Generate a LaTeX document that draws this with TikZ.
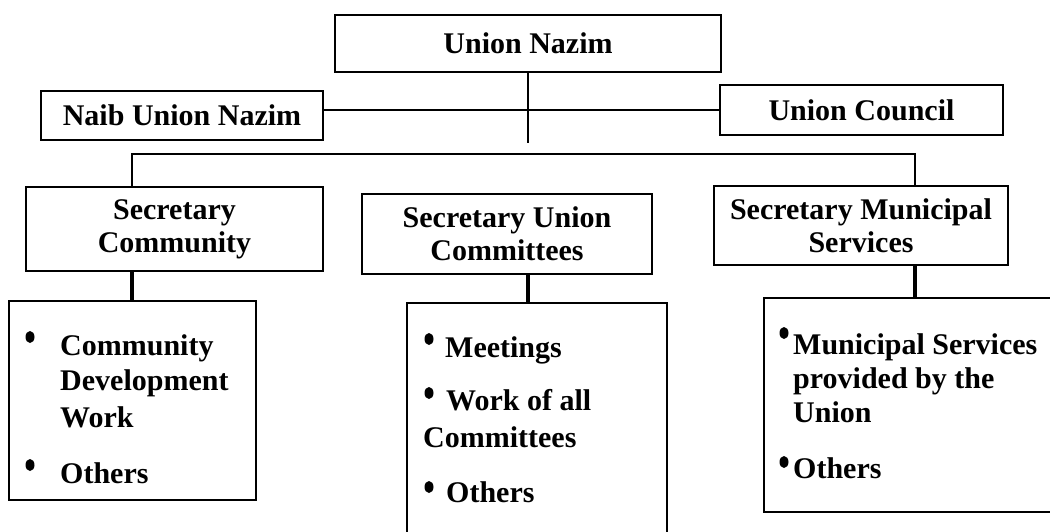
\documentclass[tikz,border=0pt]{standalone}
\usepackage{fontspec}
\usetikzlibrary{shapes.geometric}
\setmainfont{Liberation Serif}

\tikzset{
 box/.style={draw, line width=1.6pt, inner sep=0pt, align=center, font=\fontsize{30}{33}\selectfont\bfseries},
 item/.style={anchor=base west, inner sep=0pt, font=\fontsize{30}{33}\selectfont\bfseries},
 dot/.style={ellipse, fill, inner sep=0pt, minimum width=9pt, minimum height=12pt},
 link/.style={line width=2.4pt},
 stem/.style={line width=4pt}
}

\begin{document}
\begin{tikzpicture}[x=1pt, y=-1pt]
 \useasboundingbox (0, 0) rectangle (1050, 532);

 \draw (528, 43.5) node[box, minimum width=386pt, minimum height=57pt] (UnionNazim) {Union Nazim};
 \draw (182, 115.5) node[box, minimum width=282pt, minimum height=49pt] (NaibNazim) {Naib Union Nazim};
 \draw (861.5, 110) node[box, minimum width=283pt, minimum height=50pt] (UnionCouncil) {Union Council};
 \draw (174.5, 229) node[box, minimum width=297pt, minimum height=84pt] (SecCommunity) {Secretary\\Community};
 \draw (507, 234) node[box, minimum width=290pt, minimum height=80pt] (SecCommittees) {Secretary Union\\Committees};
 \draw (861, 225.5) node[box, minimum width=294pt, minimum height=79pt] (SecMunicipal) {Secretary Municipal\\Services};

 \draw (132.5, 400.5) node[box, minimum width=247pt, minimum height=199pt] (CommunityList) {};
 \draw (537, 424) node[box, minimum width=260pt, minimum height=242pt] (CommitteesList) {};
 \draw (908.5, 405) node[box, minimum width=289pt, minimum height=214pt] (MunicipalList) {};

 \draw (30, 337) node[dot] (b1) {};
 \draw (60, 355) node[item] (c1) {Community};
 \draw (60, 390) node[item] (c2) {Development};
 \draw (60, 427) node[item] (c3) {Work};
 \draw (30, 465) node[dot] (b2) {};
 \draw (60, 483) node[item] (c4) {Others};

 \draw (429, 339) node[dot] (b3) {};
 \draw (445, 357) node[item] (u1) {Meetings};
 \draw (429, 393) node[dot] (b4) {};
 \draw (446, 410) node[item] (u2) {Work of all};
 \draw (423, 447) node[item] (u3) {Committees};
 \draw (429, 487) node[dot] (b5) {};
 \draw (446, 502) node[item] (u4) {Others};

 \draw (784, 333) node[dot] (b6) {};
 \draw (793, 354) node[item] (m1) {Municipal Services};
 \draw (793, 388) node[item] (m2) {provided by the};
 \draw (793, 422) node[item] (m3) {Union};
 \draw (784, 462) node[dot] (b7) {};
 \draw (793, 478) node[item] (m4) {Others};

 \coordinate (hub) at (528, 143);
 \coordinate (busL) at (132, 154);
 \coordinate (busR) at (915, 154);

 \draw[link] (UnionNazim) -- (hub);
 \draw[link] (UnionCouncil.west -| NaibNazim.east) -- (UnionCouncil.west);
 \draw[link] (SecCommunity.north -| busL) -- (busL) -- (busR) -- (SecMunicipal.north -| busR);
 \draw[stem] (SecCommunity.south -| busL) -- (CommunityList.north -| busL);
 \draw[stem] (SecCommittees.south -| hub) -- (CommitteesList.north -| hub);
 \draw[stem] (SecMunicipal.south -| busR) -- (MunicipalList.north -| busR);
\end{tikzpicture}
\end{document}
